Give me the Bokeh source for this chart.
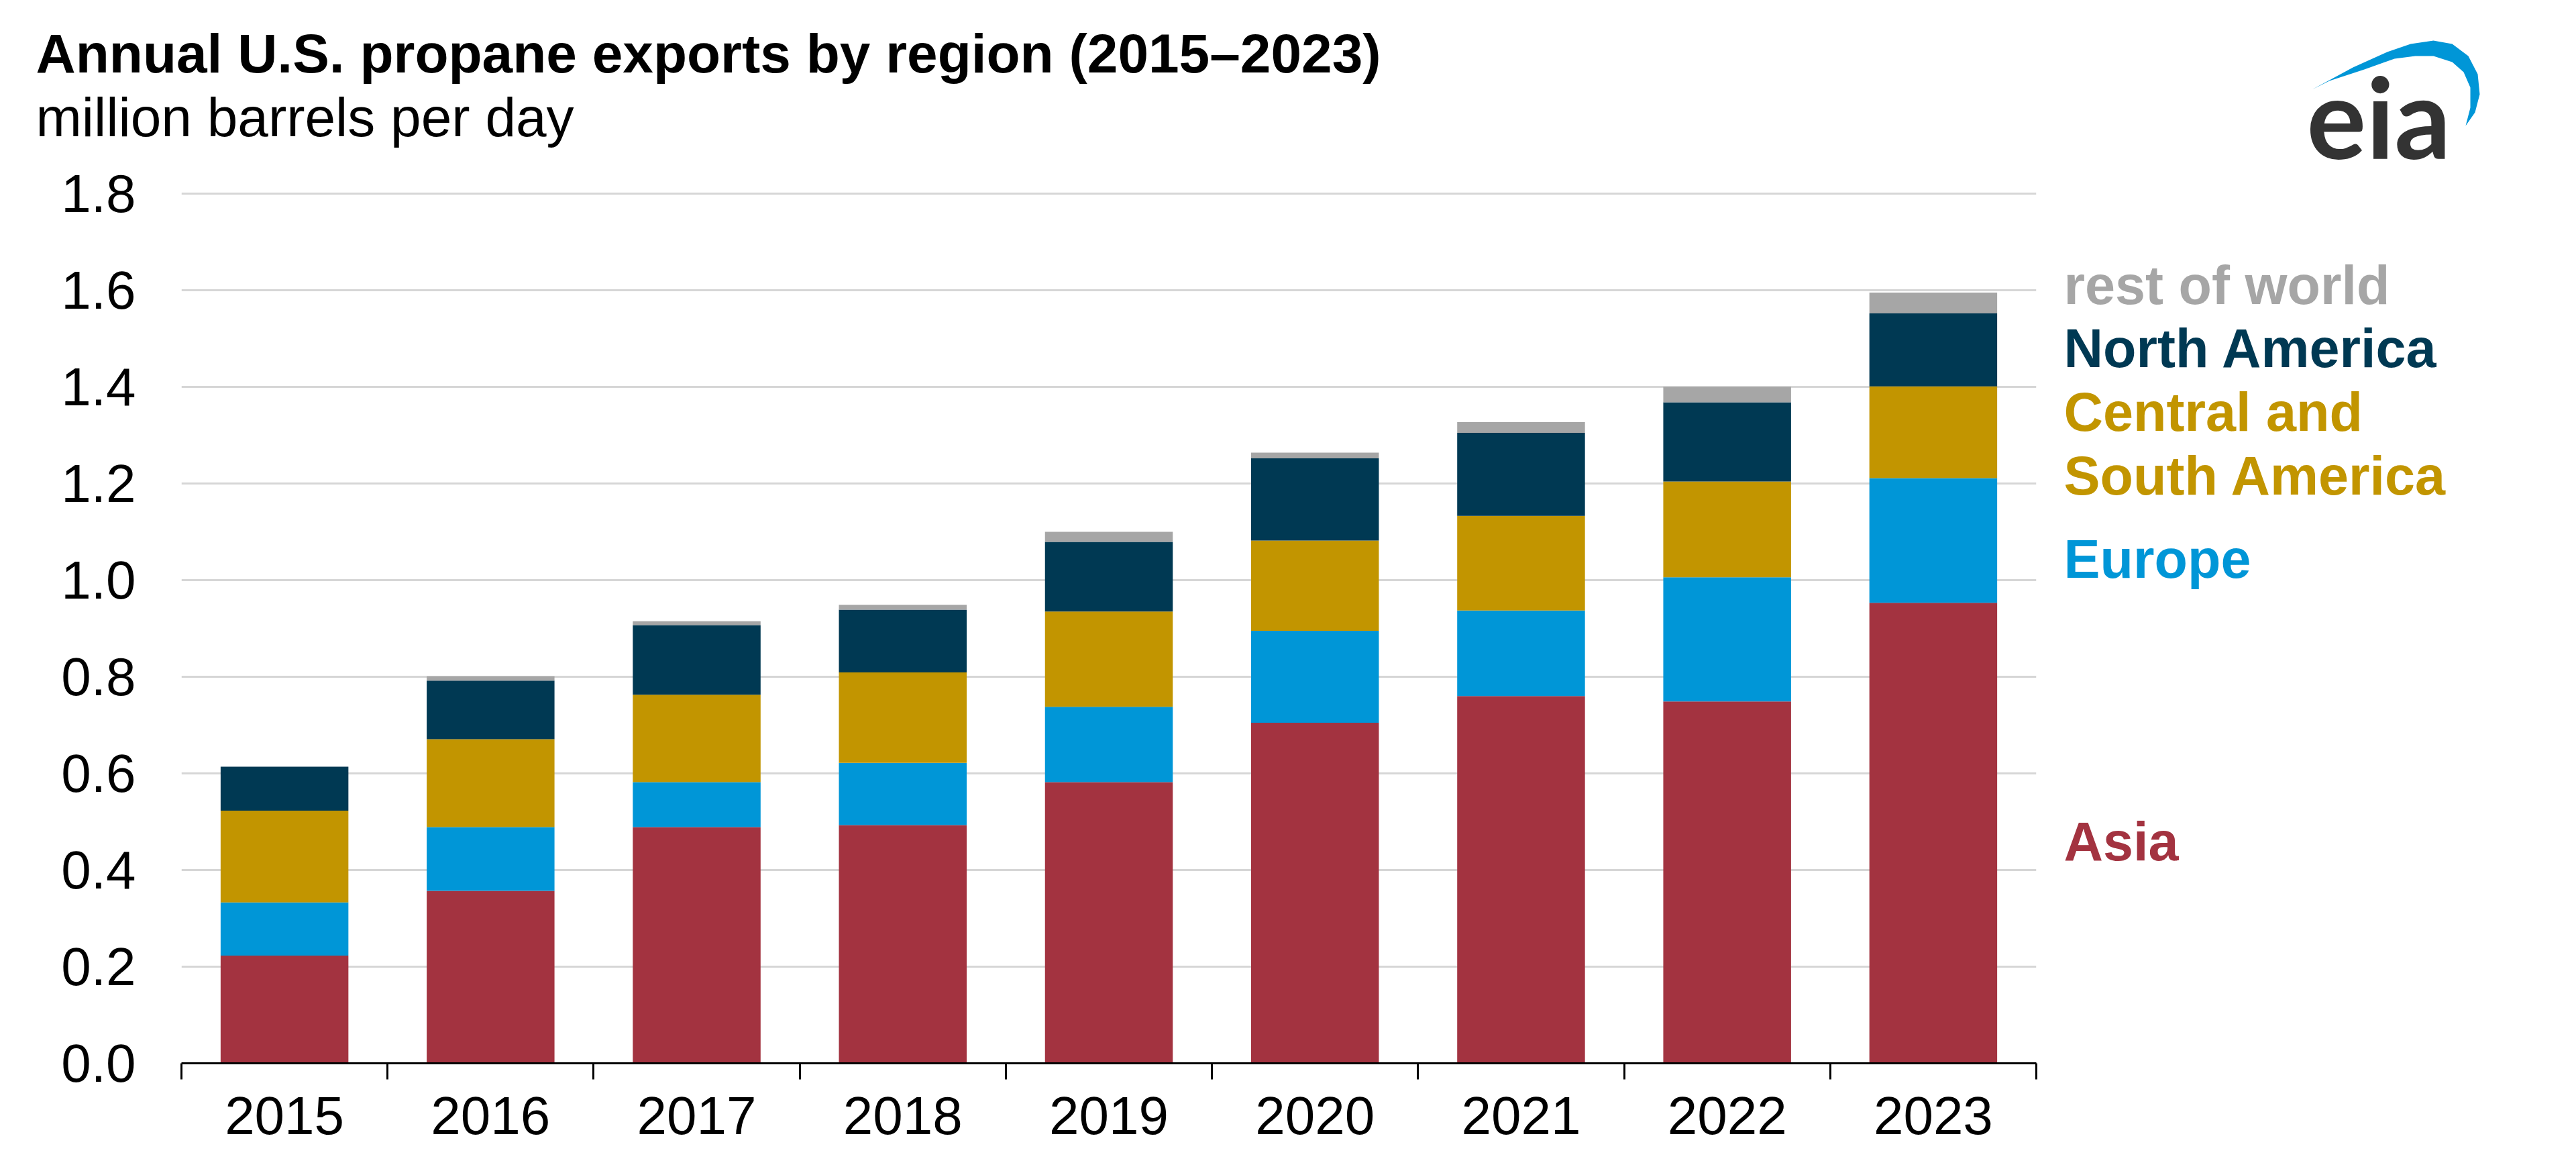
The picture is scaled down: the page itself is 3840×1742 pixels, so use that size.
from bokeh.plotting import figure
from bokeh.layouts import column, row
from bokeh.models import (Range1d, FixedTicker, PrintfTickFormatter, Label,
                          ColumnDataSource)
from bokeh.embed import file_html
from bokeh.resources import INLINE

# ---------------- data (million barrels per day) ----------------
years = ["2015", "2016", "2017", "2018", "2019", "2020", "2021", "2022", "2023"]
asia = [0.223, 0.357, 0.489, 0.493, 0.582, 0.705, 0.760, 0.749, 0.953]
europe = [0.110, 0.132, 0.093, 0.129, 0.156, 0.190, 0.177, 0.257, 0.258]
central_south_america = [0.190, 0.182, 0.181, 0.187, 0.197, 0.187, 0.196, 0.198, 0.190]
north_america = [0.091, 0.121, 0.144, 0.130, 0.144, 0.170, 0.172, 0.164, 0.151]
rest_of_world = [0.000, 0.009, 0.008, 0.010, 0.021, 0.012, 0.022, 0.032, 0.043]
series_keys = ["asia", "europe", "csa", "na", "row"]
series_colors = ["#A33340", "#0096D7", "#C29500", "#003953", "#A6A6A6"]
y_ticks = [0.0, 0.2, 0.4, 0.6, 0.8, 1.0, 1.2, 1.4, 1.6, 1.8]

# ---------------- layout constants (pixels) ----------------
W, H = 3840, 1742
HEADER_H = 240
FL, FR, FT, FB = 270, 3035, 252, 1584          # frame edges on the page
MAIN_W = FR + 5
SIDE_W = W - MAIN_W
Y_MAX = 1.85
N = len(years)
FONT = "Liberation Sans"


def base(py, size, k=0.3):
    """compensate the renderer's baseline placement"""
    return py - k * size


source = ColumnDataSource(dict(
    x=list(range(N)), year=years,
    asia=asia, europe=europe, csa=central_south_america,
    na=north_america, row=rest_of_world))

# ---------------- header (title, units) ----------------
hdr = figure(width=MAIN_W, height=HEADER_H, x_range=Range1d(0, MAIN_W),
             y_range=Range1d(HEADER_H, 0), output_backend="svg",
             toolbar_location=None, tools="", title=None,
             x_axis_location=None, y_axis_location=None,
             min_border=0)
hdr.outline_line_color = None
hdr.grid.grid_line_color = None
hdr.add_layout(Label(x=53, y=base(104, 82), text="Annual U.S. propane exports by region (2015\u20132023)",
                     text_font=FONT, text_font_size="82px", text_font_style="bold",
                     text_color="black", text_align="left", text_baseline="alphabetic"))
hdr.add_layout(Label(x=53, y=base(199, 82), text="million barrels per day",
                     text_font=FONT, text_font_size="82px",
                     text_color="black", text_align="left", text_baseline="alphabetic"))

# ---------------- main chart ----------------
p = figure(width=MAIN_W, height=H - HEADER_H, x_range=Range1d(-0.5, N - 0.5),
           y_range=Range1d(0, Y_MAX), output_backend="svg",
           toolbar_location=None, tools="", title=None,
           min_border_left=FL, min_border_right=MAIN_W - FR,
           min_border_top=FT - HEADER_H, min_border_bottom=H - FB)
p.outline_line_color = None

p.vbar_stack(series_keys, x="x", width=0.62, color=series_colors,
             line_color=None, source=source)

# y axis
p.yaxis.ticker = FixedTicker(ticks=y_ticks)
p.yaxis.formatter = PrintfTickFormatter(format="%.1f")
p.yaxis.axis_line_color = None
p.yaxis.major_tick_line_color = None
p.yaxis.minor_tick_line_color = None
p.yaxis.major_tick_out = 0
p.yaxis.major_tick_in = 0
p.yaxis.major_label_standoff = 68
p.yaxis.major_label_text_font = FONT
p.yaxis.major_label_text_font_size = "80px"
p.yaxis.major_label_text_color = "black"

# grid
p.xgrid.grid_line_color = None
p.ygrid.ticker = FixedTicker(ticks=y_ticks)
p.ygrid.grid_line_color = "#D6D6D6"
p.ygrid.grid_line_width = 3

# x axis: labels at centres, tick marks at category boundaries
p.xaxis.ticker = FixedTicker(ticks=list(range(N)),
                             minor_ticks=[i - 0.5 for i in range(N + 1)])
p.xaxis.major_label_overrides = {i: y for i, y in enumerate(years)}
p.xaxis.axis_line_color = "black"
p.xaxis.axis_line_width = 3
p.xaxis.major_tick_line_color = None
p.xaxis.major_tick_out = 24
p.xaxis.major_tick_in = 0
p.xaxis.minor_tick_line_color = "black"
p.xaxis.minor_tick_line_width = 3
p.xaxis.minor_tick_out = 24
p.xaxis.minor_tick_in = 0
p.xaxis.major_label_standoff = 26
p.xaxis.major_label_text_font = FONT
p.xaxis.major_label_text_font_size = "80px"
p.xaxis.major_label_text_color = "black"

# ---------------- right side panel: logo + direct series labels ----------------
side = figure(width=SIDE_W, height=H, x_range=Range1d(MAIN_W, W),
              y_range=Range1d(H, 0), output_backend="svg", toolbar_location=None,
              tools="", title=None, x_axis_location=None, y_axis_location=None,
              min_border=0)
side.outline_line_color = None
side.grid.grid_line_color = None

legend_items = [
    ("rest of world", "#A6A6A6", 449),
    ("North America", "#003953", 543),
    ("Central and", "#C29500", 638),
    ("South America", "#C29500", 733),
    ("Europe", "#0096D7", 857),
    ("Asia", "#A33340", 1278),
]
for txt, col, b in legend_items:
    side.add_layout(Label(x=3076, y=base(b, 81), text=txt,
                          text_font=FONT, text_font_size="81px",
                          text_font_style="bold", text_color=col,
                          text_align="left", text_baseline="alphabetic"))

swoosh_x = [3446, 3507, 3558, 3593, 3627, 3655, 3679, 3693, 3696, 3689,
            3675, 3682, 3682, 3672, 3655, 3627, 3600, 3569, 3524, 3472]
swoosh_y = [133, 100, 77, 65, 60, 65, 83, 110, 140, 167,
            187, 160, 130, 107, 92, 83, 83, 87, 103, 120]
side.patch(swoosh_x, swoosh_y, fill_color="#0096D7", line_color=None)
side.add_layout(Label(x=3438, y=base(232, 166, 0.36), text="eia", text_font="Lato",
                      text_font_size="166px", text_font_style="bold",
                      text_color="#333333", text_align="left", text_baseline="alphabetic"))

layout = row(column(row(hdr, spacing=0), row(p, spacing=0), spacing=0), side, spacing=0)
open("out.html", "w").write(file_html(layout, INLINE))
